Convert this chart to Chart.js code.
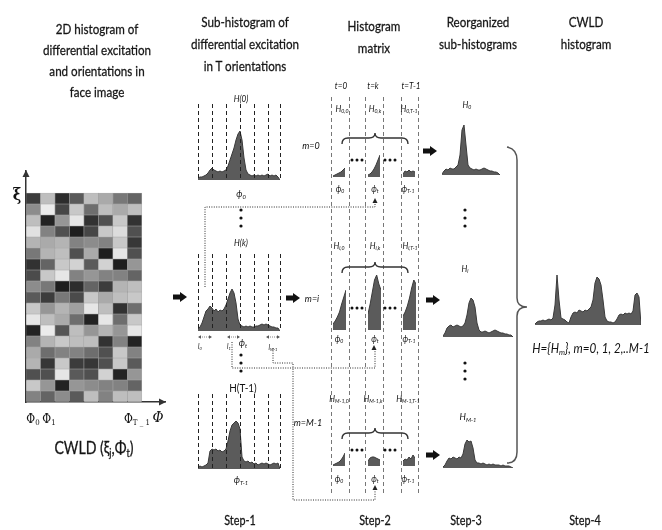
<!DOCTYPE html>
<html lang="en">
<head>
<meta charset="UTF-8">
<title>CWLD histogram steps</title>
<script src="https://cdn.jsdelivr.net/npm/chart.js"></script>
<style>
  body { margin:0; width:662px; height:530px; position:relative; background:#fff; overflow:hidden;
         font-family:Lato,"DejaVu Sans Condensed",sans-serif; color:#111; }
  canvas, .t, svg { position:absolute; }
  .t { white-space:nowrap; transform:translate(-50%,-50%) scaleX(var(--sx,0.9)); line-height:1; filter:grayscale(1); }
  .title { font-size:14px; text-align:center; --sx:0.83; -webkit-text-stroke:0.3px #222; }
  .i { font-style:italic; }
  .s9 { font-size:9px; } .s10 { font-size:10px; } .s8 { font-size:8px; } .s7 { font-size:7px; }
  sub { font-size:65%; vertical-align:-0.3em; line-height:0; }
</style>
</head>
<body>
<script>
  // 2D histogram cells (grey level), top row first, 8 orientations per row
  const cwldGrays = [
    [60,190,45,90,190,170,120,100],
    [140,235,70,200,110,190,170,190],
    [190,35,150,230,50,80,200,50],
    [225,130,80,30,70,200,220,80],
    [180,170,180,130,140,130,200,55],
    [120,180,190,80,170,30,230,80],
    [50,100,200,210,90,210,30,150],
    [75,200,230,130,150,130,130,100],
    [140,120,30,45,100,60,180,190],
    [90,60,120,75,200,170,190,200],
    [200,150,180,160,230,190,50,110],
    [230,190,170,110,35,230,110,200],
    [35,235,85,190,150,180,150,230],
    [130,180,200,190,190,50,130,35],
    [170,110,130,130,110,80,200,130],
    [180,55,200,60,55,80,200,90],
    [80,80,230,90,80,210,35,150],
    [200,150,35,150,140,130,130,100],
    [130,100,140,90,190,130,190,190]
  ];

  // step 1 sub-histograms H(0), H(k), H(T-1)
  const subH0 = [2,3,3,4,5,7,10,12,10,9,8,9,8,9,10,14,20,26,32,40,46,49,40,22,10,6,5,4,5,4,5,4,5,4,5,6,4,5,4,5,3,0];
  const subHk = [2,4,8,14,20,22,25,23,20,22,19,21,20,22,26,32,38,42,38,28,12,6,5,4,5,4,5,4,4,5,5,6,7,6,7,6,5,4,4,3,3,0];
  const subHT = [2,3,2,3,4,6,18,20,19,20,18,19,17,18,20,28,38,44,46,48,46,40,12,8,7,8,6,7,5,6,4,5,6,5,6,5,4,5,6,5,6,0];
  const binEdges = [0,7,14,21,28,35,41];

  // step 2 histogram matrix cells (rows m=0, m=i, m=M-1; cols t=0, t=k, t=T-1)
  const mat0 = [[1,2,3,4,5,7,9],[2,3,5,8,12,17,22],[3,6,5,7,5,6,5]];
  const matI = [[6,9,13,18,26,33,40],[16,26,38,50,55,46,40],[14,18,24,32,42,50,46]];
  const matM = [[1,2,3,4,6,9,13],[5,8,9,9,8,7,6],[5,7,6,9,7,11,8]];

  // step 3 reorganized sub-histograms H0, Hi, HM-1
  const reorgH0 = [1,4,6,5,7,6,6,8,10,20,45,50,30,10,7,6,5,6,5,5,6,7,6,5,4,4,3,3,2,0];
  const reorgHi = [1,4,9,11,12,10,11,12,11,10,11,14,22,34,39,37,30,14,7,5,5,6,5,4,5,6,7,6,5,4,4,3,3,2,2,0];
  const reorgHM = [1,3,7,10,9,11,10,9,11,10,14,24,28,26,27,20,8,5,5,4,5,4,3,4,3,4,3,3,3,2,3,2,2,2,1,0];

  // step 4 concatenated CWLD histogram
  const cwldH = [1,3,4,4,5,4,5,6,5,7,20,50,25,7,6,5,3,2,8,12,13,12,15,14,13,15,14,16,18,25,42,48,46,40,25,8,4,3,3,2,3,6,10,11,10,12,11,12,11,14,30,32,28,0];

  function addCanvas(left, top, w, h) {
    const c = document.createElement('canvas');
    c.width = w; c.height = h;
    c.style.left = left + 'px'; c.style.top = top + 'px';
    c.style.width = w + 'px'; c.style.height = h + 'px';
    document.body.appendChild(c);
    return c;
  }

  const noUI = { legend: { display: false }, tooltip: { enabled: false } };

  // x0..x1 = horizontal extent, base = baseline y, h = chart height
  function histChart(vals, x0, x1, base, h, edges) {
    const cv = addCanvas(x0 - 1, base - h, x1 - x0 + 2, h);
    return new Chart(cv, {
      type: 'line',
      data: {
        datasets: [{
          data: vals.map((v, i) => ({ x: i, y: v })),
          fill: 'origin',
          backgroundColor: '#5b5b5b',
          borderColor: '#3a3a3a',
          borderWidth: 1,
          pointRadius: 0,
          tension: 0
        }]
      },
      options: {
        responsive: false, animation: false, events: [],
        layout: { padding: { left: 1, right: 1 } },
        plugins: noUI,
        scales: {
          x: {
            type: 'linear', min: 0, max: vals.length - 1,
            display: !!edges,
            ticks: { display: false },
            grid: { drawTicks: false, color: '#222', lineWidth: 1, z: 1 },
            border: { display: false, dash: [4, 3] },
            afterBuildTicks: s => { if (edges) s.ticks = edges.map(v => ({ value: v })); }
          },
          y: { min: 0, max: h, display: false }
        }
      }
    });
  }

  // --- 2D histogram (heat map) ---
  const axisArrows = {
    id: 'axisArrows',
    afterDraw(c) {
      const { left, top, right, bottom } = c.chartArea;
      const g = c.ctx;
      g.save();
      g.fillStyle = '#333';
      g.beginPath();
      g.moveTo(right + 1, bottom); g.lineTo(right - 6, bottom - 3.5); g.lineTo(right - 6, bottom + 3.5);
      g.fill();
      g.beginPath();
      g.moveTo(left, top - 1); g.lineTo(left - 3.5, top + 6); g.lineTo(left + 3.5, top + 6);
      g.fill();
      g.restore();
    }
  };
  const hm = addCanvas(20, 165, 150, 241);
  new Chart(hm, {
    type: 'bar',
    data: {
      datasets: cwldGrays.map((row, ri) => ({
        data: row.map((g, c) => ({ x: c + 0.5, y: [cwldGrays.length - 1 - ri, cwldGrays.length - ri] })),
        backgroundColor: row.map(g => `rgb(${g},${g},${g})`),
        borderColor: 'rgba(100,100,100,0.5)',
        borderWidth: 0.6,
        borderSkipped: false,
        grouped: false,
        barPercentage: 1,
        categoryPercentage: 1
      }))
    },
    options: {
      responsive: false, animation: false, events: [],
      layout: { padding: { left: 6, top: 6, right: 5, bottom: 4 } },
      plugins: noUI,
      scales: {
        x: { type: 'linear', offset: false, min: 0, max: 9.6, ticks: { display: false, stepSize: 1 }, grid: { display: false, drawTicks: false, offset: false }, border: { color: '#333', width: 1.5 } },
        y: { min: 0, max: 21, offset: false, ticks: { display: false }, grid: { display: false, drawTicks: false }, border: { color: '#333', width: 1.5 } }
      }
    },
    plugins: [axisArrows]
  });

  // --- step 1 ---
  histChart(subH0, 198, 280, 180, 76, binEdges);
  histChart(subHk, 198, 280, 331, 77, binEdges);
  histChart(subHT, 198, 280, 469, 75, binEdges);

  // --- step 2: dashed column guides of the matrix ---
  const mg = addCanvas(326, 97, 98, 396);
  new Chart(mg, {
    type: 'line',
    data: { datasets: [] },
    options: {
      responsive: false, animation: false, events: [],
      layout: { padding: { left: 2, right: 2 } },
      plugins: noUI,
      scales: {
        x: {
          type: 'linear', min: 328, max: 422,
          ticks: { display: false },
          grid: { drawTicks: false, color: '#777', lineWidth: 1 },
          border: { display: false, dash: [4, 3] },
          afterBuildTicks: s => { s.ticks = [331, 349, 365, 383, 401, 418].map(v => ({ value: v })); }
        },
        y: { min: 0, max: 1, display: false }
      }
    }
  });
  const cellX = [333, 368, 403];
  mat0.forEach((v, k) => histChart(v, cellX[k], cellX[k] + 12, 177, 25));
  matI.forEach((v, k) => histChart(v, cellX[k], cellX[k] + 13, 330, 58));
  matM.forEach((v, k) => histChart(v, cellX[k], cellX[k] + 12, 466, 16));

  // --- step 3 ---
  histChart(reorgH0, 442, 500, 175, 55);
  histChart(reorgHi, 443, 513, 337, 44);
  histChart(reorgHM, 443, 513, 468, 32);

  // --- step 4 ---
  histChart(cwldH, 535, 641, 325, 54);

  // --- texts ---
  const texts = [
    ['2D histogram of<br>differential excitation<br>and orientations in<br>face image', 97, 60, 'title', 21],
    ['Sub-histogram of<br>differential excitation<br>in T orientations', 245, 44, 'title', 22],
    ['Histogram<br>matrix', 374, 37, 'title', 22],
    ['Reorganized<br>sub-histograms', 478, 33, 'title', 22],
    ['CWLD<br>histogram', 586, 33, 'title', 22],
    ['ξ', 17, 195, 's10', 0, 'font-size:16px;font-family:DejaVu Serif,serif;font-weight:bold'],
    ['Φ<sub>0</sub>', 33, 419, '', 0, 'font-size:12px;font-family:DejaVu Serif,serif'],
    ['Φ<sub>1</sub>', 49, 419, '', 0, 'font-size:12px;font-family:DejaVu Serif,serif'],
    ['Φ<sub>T _ 1</sub>', 137, 419, '', 0, 'font-size:12px;font-family:DejaVu Serif,serif'],
    ['Φ', 158, 417, 'i', 0, 'font-size:15px;font-family:DejaVu Serif,serif'],
    ['CWLD (ξ<sub>j</sub>,Φ<sub>t</sub>)', 94, 447, 'title', 0, 'font-size:17px'],
    ['H(0)', 241, 98, 'i s9'],
    ['ϕ<sub>0</sub>', 241, 193, 'i s10'],
    ['H(k)', 241, 242, 'i s9'],
    ['ϕ<sub>t</sub>', 243, 342, 'i s10'],
    ['l<sub>0</sub>', 200, 346, 'i s7'],
    ['l<sub>1</sub>', 229, 346, 'i s7'],
    ['l<sub>M-1</sub>', 273, 347, 'i s7'],
    ['H(T-1)', 243, 387, 's10', 0, 'font-size:11px'],
    ['ϕ<sub>T-1</sub>', 241, 479, 'i s10'],
    ['t=0', 341, 85, 'i s9'],
    ['t=k', 373, 85, 'i s9'],
    ['t=T-1', 411, 85, 'i s9'],
    ['H<sub>0,0</sub>', 342, 108, 'i s9'],
    ['H<sub>0,k</sub>', 375, 108, 'i s9'],
    ['H<sub>0,T-1</sub>', 409, 108, 'i s9'],
    ['m=0', 311, 145, 'i s10'],
    ['ϕ<sub>0</sub>', 340, 188, 'i s9'],
    ['ϕ<sub>t</sub>', 375, 188, 'i s9'],
    ['ϕ<sub>T-1</sub>', 408, 188, 'i s9'],
    ['H<sub>i,0</sub>', 339, 245, 'i s9'],
    ['H<sub>i,k</sub>', 375, 245, 'i s9'],
    ['H<sub>i,T-1</sub>', 410, 245, 'i s9'],
    ['m=i', 312, 298, 'i s10'],
    ['ϕ<sub>0</sub>', 339, 338, 'i s9'],
    ['ϕ<sub>t</sub>', 375, 338, 'i s9'],
    ['ϕ<sub>T-1</sub>', 409, 338, 'i s9'],
    ['H<sub>M-1,0</sub>', 339, 398, 'i s9'],
    ['H<sub>M-1,k</sub>', 373, 398, 'i s9'],
    ['H<sub>M-1,T-1</sub>', 408, 398, 'i s9'],
    ['m=M-1', 308, 422, 'i s10'],
    ['ϕ<sub>0</sub>', 339, 478, 'i s9'],
    ['ϕ<sub>t</sub>', 375, 478, 'i s9'],
    ['ϕ<sub>T-1</sub>', 408, 478, 'i s9'],
    ['H<sub>0</sub>', 467, 104, 'i s9'],
    ['H<sub>i</sub>', 465, 268, 'i s9'],
    ['H<sub>M-1</sub>', 468, 416, 'i s10'],
    ['H={H<sub>m</sub>}, m=0, 1, 2,..M-1', 591, 348, 'i', 0, 'font-size:13px'],
    ['Step-1', 240, 520, 'title', 0, 'font-size:13px'],
    ['Step-2', 375, 520, 'title', 0, 'font-size:13px'],
    ['Step-3', 466, 520, 'title', 0, 'font-size:13px'],
    ['Step-4', 585, 520, 'title', 0, 'font-size:13px']
  ];
  texts.forEach(([html, x, y, cls, lh, css]) => {
    const d = document.createElement('div');
    d.className = 't ' + (cls || '');
    d.innerHTML = html;
    d.style.left = x + 'px'; d.style.top = y + 'px';
    if (lh) d.style.lineHeight = lh + 'px';
    if (css) d.style.cssText += css;
    document.body.appendChild(d);
  });

  // --- connectors, braces and arrows ---
  const arrows = [[180, 297], [293, 298], [430, 151], [433, 300], [433, 455]];
  const ups = [[375, 198], [374, 345], [375, 485]];
  const vdots = [[241, 210], [241, 355], [465, 210], [465, 363]];
  const hdots = [[357, 160], [390, 160], [357, 308], [390, 308], [357, 450], [390, 450]];
  const braceY = [133, 262, 428];
  let s = '<svg width="662" height="530" style="left:0;top:0">';
  s += '<g fill="none" stroke="#2a2a2a" stroke-width="1" stroke-dasharray="1 1.4">' +
       '<path d="M205,287 V207 H375 V203"/>' +
       '<path d="M232,342 V368 H375 V350"/>' +
       '<path d="M273,348 V363 H293 V500 H375 V490"/></g>';
  braceY.forEach(y => {
    s += `<path fill="none" stroke="#333" stroke-width="1.4" d="M342,${y + 11} Q342,${y + 5} 348,${y + 5} L369,${y + 5} Q375,${y + 5} 375,${y} Q375,${y + 5} 381,${y + 5} L402,${y + 5} Q408,${y + 5} 408,${y + 11}"/>`;
  });
  s += '<path fill="none" stroke="#555" stroke-width="1.5" d="M507,147 Q517,149 517,160 L517,298 Q517,307 527,307 Q517,307 517,316 L517,452 Q517,463 507,463"/>';
  arrows.forEach(([x, y]) => {
    s += `<rect x="${x - 7}" y="${y - 2.5}" width="7.5" height="5" fill="#111"/><polygon fill="#111" points="${x},${y - 5} ${x + 7},${y} ${x},${y + 5}"/>`;
  });
  ups.forEach(([x, y]) => { s += `<polygon fill="#222" points="${x},${y} ${x - 2.5},${y + 5} ${x + 2.5},${y + 5}"/>`; });
  vdots.forEach(([x, y]) => { [0, 8, 16].forEach(d => { s += `<circle cx="${x}" cy="${y + d}" r="1.6" fill="#111"/>`; }); });
  hdots.forEach(([x, y]) => { [-5, 0, 5].forEach(d => { s += `<circle cx="${x + d}" cy="${y}" r="1.5" fill="#111"/>`; }); });
  [[198, 212], [227, 240], [266, 280]].forEach(([a, b]) => {
    s += `<line x1="${a + 2}" y1="337" x2="${b - 2}" y2="337" stroke="#666" stroke-width="0.8" stroke-dasharray="1 1"/>` +
         `<polygon fill="#555" points="${a},337 ${a + 3},335.3 ${a + 3},338.7"/><polygon fill="#555" points="${b},337 ${b - 3},335.3 ${b - 3},338.7"/>`;
  });
  s += '</svg>';
  document.body.insertAdjacentHTML('beforeend', s);
</script>
</body>
</html>
